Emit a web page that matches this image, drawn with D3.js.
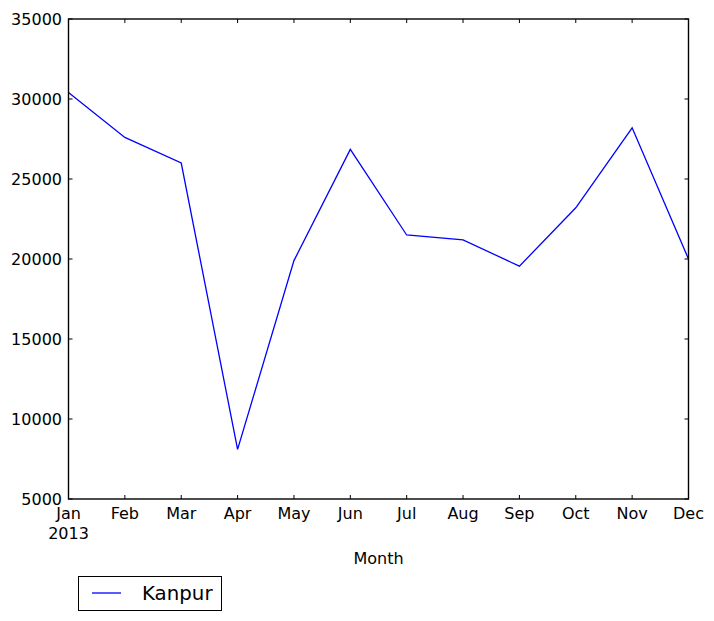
<!DOCTYPE html>
<html><head><meta charset="utf-8">
<script src="https://cdn.jsdelivr.net/npm/d3@7"></script>
<style>body{margin:0;background:#fff}svg{display:block}text{font-family:"DejaVu Sans",sans-serif;fill:#000}</style>
</head><body>
<script>
const months = ["Jan","Feb","Mar","Apr","May","Jun","Jul","Aug","Sep","Oct","Nov","Dec"];
const kanpur = [30400,27600,26000,8100,19900,26850,21500,21200,19550,23200,28200,20000];
const yTicks = [5000,10000,15000,20000,25000,30000,35000];
const seriesName = "Kanpur";
const xLabel = "Month";
const yearLabel = "2013";

const W=714,H=621, L=68.5, R=688.5, T=19, B=499;
const svg = d3.select("body").append("svg").attr("width",W).attr("height",H);
const x = d3.scalePoint().domain(months).range([L,R]);
const y = d3.scaleLinear().domain([5000,35000]).range([B,T]);

// ticks (inside, all four sides)
const g = svg.append("g").attr("stroke","#000").attr("stroke-width",1);
months.forEach(m=>{
  g.append("line").attr("x1",x(m)).attr("x2",x(m)).attr("y1",B).attr("y2",B-4);
  g.append("line").attr("x1",x(m)).attr("x2",x(m)).attr("y1",T).attr("y2",T+4);
});
yTicks.forEach(v=>{
  g.append("line").attr("x1",L).attr("x2",L+4).attr("y1",y(v)).attr("y2",y(v));
  g.append("line").attr("x1",R).attr("x2",R-4).attr("y1",y(v)).attr("y2",y(v));
});

// line
const line = d3.line().x((d,i)=>x(months[i])).y(d=>y(d));
svg.append("path").datum(kanpur).attr("d",line).attr("fill","none").attr("stroke","#0000ff").attr("stroke-width",1.3);

// frame
svg.append("rect").attr("x",L).attr("y",T).attr("width",R-L).attr("height",B-T)
  .attr("fill","none").attr("stroke","#000").attr("stroke-width",1.4);

// labels
yTicks.forEach(v=>{
  svg.append("text").attr("x",62).attr("y",y(v)).attr("dy","0.35em").attr("text-anchor","end")
    .attr("font-size",16).text(v);
});
months.forEach(m=>{
  svg.append("text").attr("x",x(m)).attr("y",519).attr("text-anchor","middle").attr("font-size",16).text(m);
});
svg.append("text").attr("x",x(months[0])).attr("y",539).attr("text-anchor","middle").attr("font-size",16).text(yearLabel);
svg.append("text").attr("x",(L+R)/2).attr("y",564).attr("text-anchor","middle").attr("font-size",16).text(xLabel);

// legend
const lg = svg.append("g");
lg.append("rect").attr("x",78.5).attr("y",576.5).attr("width",143).attr("height",34).attr("fill","#fff").attr("stroke","#000").attr("stroke-width",1);
lg.append("line").attr("x1",92).attr("x2",121).attr("y1",593).attr("y2",593).attr("stroke","#0000ff").attr("stroke-width",1.3);
lg.append("text").attr("x",142).attr("y",593).attr("dy","0.35em").attr("font-size",19.8).text(seriesName);
</script>
</body></html>
